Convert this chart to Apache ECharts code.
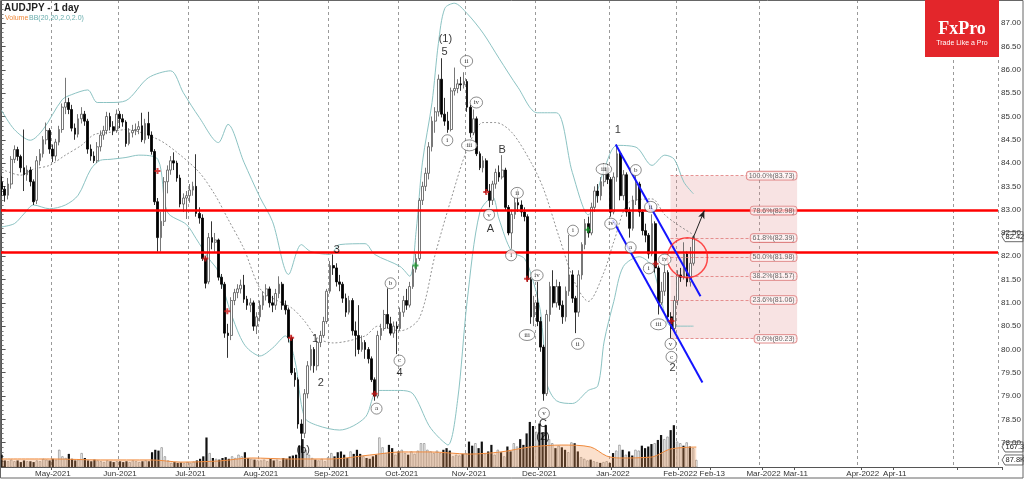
<!DOCTYPE html>
<html><head><meta charset="utf-8">
<script src="https://cdn.jsdelivr.net/npm/echarts/dist/echarts.min.js"></script>
<style>html,body{margin:0;padding:0;background:#fff}#c{width:1024px;height:479px}</style>
</head><body><div id="c"></div><script>
// ---------- axis / categories ----------
const firstDate = '2021-04-09', lastCandleDate = '2022-02-08', axisEndDate = '2022-05-14';
const tickLabels = {'2021-05-03':'May-2021','2021-06-01':'Jun-2021','2021-07-01':'Jul-2021','2021-08-02':'Aug-2021','2021-09-01':'Sep-2021','2021-10-01':'Oct-2021','2021-11-01':'Nov-2021','2021-12-01':'Dec-2021','2022-01-03':'Jan-2022','2022-02-01':'Feb-2022','2022-02-13':'Feb-13','2022-03-01':'Mar-2022','2022-03-11':'Mar-11','2022-04-01':'Apr-2022','2022-04-11':'Apr-11'};
const gridDates = ['2021-05-03','2021-06-01','2021-07-01','2021-08-02','2021-09-01','2021-10-01','2021-11-01','2021-12-01','2022-01-03','2022-02-01','2022-03-01','2022-04-01','2022-05-01'];

// ---------- candles [open, close, low, high] ----------
const candles = [
[83.59,83.44,83.30,83.72],[83.44,83.31,83.17,83.50],[83.31,83.55,83.22,83.68],[83.55,84.08,83.45,84.15],[84.08,84.29,84.00,84.38],
[84.29,84.14,84.05,84.35],[84.14,83.90,83.80,84.18],[83.90,83.75,83.40,84.72],[83.75,83.85,83.62,83.95],[83.85,83.60,83.50,83.92],
[83.60,83.17,83.10,83.65],[83.20,84.05,83.12,84.15],[84.05,84.20,83.95,84.30],[84.20,84.50,84.12,84.58],[84.50,84.70,84.40,84.87],
[84.70,84.30,84.20,84.75],[84.30,84.15,84.02,84.40],[84.15,84.45,84.05,84.52],[84.45,84.72,84.38,84.80],[84.72,85.20,84.65,85.28],
[85.20,85.30,85.05,85.83],[85.30,85.15,85.05,85.40],[85.15,84.75,84.68,85.25],[84.75,84.62,84.50,84.85],[84.62,84.95,84.55,85.05],
[84.95,85.05,84.85,85.20],[85.05,84.90,84.80,85.12],[84.90,84.30,84.20,84.95],[84.30,84.15,84.05,84.40],[84.15,84.05,84.00,84.25],
[84.05,84.35,84.00,84.45],[84.35,84.60,84.25,84.70],[84.60,84.70,84.50,84.80],[84.70,85.00,84.62,85.10],[85.00,84.78,84.70,85.08],
[84.78,84.70,84.60,84.90],[84.70,85.05,84.65,85.15],[85.05,84.95,84.75,85.12],[84.95,84.88,84.78,85.05],[84.88,84.42,84.35,84.92],
[84.42,84.65,84.38,84.75],[84.65,84.70,84.55,84.82],[84.70,84.72,84.60,84.85],[84.72,84.78,84.62,84.90],[84.80,84.50,84.45,85.08],
[84.50,84.85,84.42,84.95],[84.85,84.60,84.52,85.10],[84.60,84.25,84.18,84.68],[84.25,83.17,83.10,84.30],[83.17,82.40,82.10,83.25],
[82.40,82.75,82.10,82.95],[82.75,83.60,82.65,83.70],[83.60,83.85,83.35,83.95],[83.85,84.05,83.75,84.15],[84.05,84.00,83.85,84.23],
[84.00,83.68,83.60,84.05],[83.68,83.12,83.05,83.75],[83.12,83.25,82.95,83.35],[83.25,83.30,82.80,83.40],[83.30,83.42,83.15,83.55],
[83.42,83.50,83.30,83.60],[83.50,82.92,82.85,84.19],[82.92,82.82,82.70,83.05],[82.82,81.95,81.90,82.90],[81.95,81.42,81.31,82.00],
[81.45,82.40,81.40,82.50],[82.40,82.30,82.15,82.75],[82.30,82.35,82.10,82.50],[82.35,81.55,81.48,82.38],[81.55,81.40,81.30,81.62],
[81.40,80.35,80.25,81.45],[80.35,80.30,79.82,80.55],[80.30,81.05,80.20,81.12],[81.05,81.22,80.95,81.30],[81.22,81.30,81.10,81.40],
[81.30,81.38,81.20,81.50],[81.38,81.08,81.00,81.60],[81.08,80.95,80.85,81.15],[80.95,81.00,80.80,81.10],[81.00,80.50,80.40,81.05],
[80.50,80.70,80.33,80.80],[80.70,80.95,80.60,81.05],[80.95,81.15,80.85,81.25],[81.15,81.30,81.05,81.40],[81.30,81.00,80.90,81.35],
[81.00,80.95,80.80,81.15],[80.95,81.20,80.85,81.30],[81.20,81.40,81.10,81.57],[81.40,80.95,80.85,81.45],[80.95,80.85,80.75,81.05],
[80.85,80.25,80.15,80.90],[80.25,79.50,79.45,80.30],[79.50,79.35,79.20,79.60],[79.35,78.40,78.30,79.40],[78.40,78.20,77.84,78.50],
[78.20,79.05,78.10,79.15],[79.05,79.65,78.95,79.75],[79.65,80.00,79.55,80.10],[80.00,79.65,79.50,80.05],[79.65,80.15,79.55,80.25],
[80.15,80.30,80.05,80.40],[80.30,80.60,80.25,80.70],[80.60,81.25,80.55,81.30],[81.25,81.80,81.20,81.90],[81.80,81.75,81.60,82.04],
[81.75,81.45,81.35,81.85],[81.45,81.40,81.25,81.60],[81.40,81.10,81.00,81.45],[81.10,80.80,80.70,81.20],[80.80,81.05,80.75,81.15],
[81.05,80.40,80.30,81.10],[80.40,80.30,79.85,80.60],[80.30,80.00,79.90,80.95],[80.00,80.15,79.95,80.30],[80.15,80.00,79.80,80.20],
[80.00,79.80,79.70,80.05],[79.80,79.35,79.30,79.85],[79.35,79.00,78.90,79.40],[79.00,80.30,78.95,80.40],[80.30,80.45,80.20,80.55],
[80.45,80.75,80.40,80.85],[80.75,80.55,80.45,81.31],[80.55,80.35,80.30,80.70],[80.35,80.50,80.25,80.60],[80.50,80.45,79.90,80.60],
[80.45,80.80,80.40,80.90],[80.80,81.05,80.70,81.15],[81.05,80.95,80.85,81.30],[80.95,81.35,80.90,81.45],[81.35,81.72,81.30,81.80],
[81.72,81.95,81.65,82.05],[81.95,83.20,81.90,83.25],[83.20,83.50,83.10,83.60],[83.50,83.78,83.40,83.90],[83.78,84.35,83.65,84.45],
[84.35,84.90,84.25,85.00],[84.90,85.10,84.65,85.20],[85.10,85.80,85.00,85.90],[85.80,85.05,84.98,86.25],[85.05,84.90,84.80,85.40],
[84.90,84.72,84.65,85.10],[84.72,85.55,84.68,85.62],[85.55,85.60,85.45,86.05],[85.60,85.70,85.50,85.80],[85.70,85.68,85.55,85.85],
[85.68,85.75,85.60,85.95],[85.75,85.20,85.10,85.80],[85.20,84.65,84.55,85.25],[84.65,84.95,84.60,85.15],[84.95,84.20,84.15,85.00],
[84.20,83.90,83.85,84.25],[83.90,84.05,83.80,84.15],[84.05,83.40,83.35,84.10],[83.40,83.20,83.05,83.55],[83.20,83.55,83.10,83.62],
[83.55,83.80,83.45,83.88],[83.80,83.70,83.60,83.95],[83.70,83.85,83.65,84.17],[83.85,83.05,82.98,83.90],[83.05,82.50,82.45,83.10],
[82.50,82.90,82.16,83.00],[82.90,83.15,82.80,83.25],[83.15,83.10,82.95,83.45],[83.10,82.95,82.85,83.20],[82.95,82.85,82.75,83.05],
[82.85,81.50,81.45,82.90],[81.50,80.70,80.55,81.55],[80.70,81.00,80.50,81.15],[81.00,80.60,80.50,81.45],[80.60,80.05,79.95,80.70],
[80.05,79.05,78.90,80.10],[79.05,80.75,79.00,80.85],[80.75,81.35,80.60,81.45],[81.35,81.00,80.90,81.70],[81.00,81.35,80.90,81.50],
[81.35,80.95,80.85,81.45],[80.95,80.70,80.55,81.05],[80.70,81.25,80.60,81.35],[81.25,81.60,81.15,82.46],[81.60,81.10,81.00,81.70],
[81.10,80.80,80.35,81.15],[80.80,81.60,80.70,81.70],[81.60,82.25,81.50,82.30],[82.25,82.70,82.15,82.80],[82.70,82.50,82.40,82.85],
[82.50,83.05,82.45,83.15],[83.05,83.40,82.95,83.50],[83.40,83.30,83.15,83.55],[83.30,83.60,83.20,83.70],[83.60,83.90,83.50,84.00],
[83.90,83.65,83.55,83.98],[83.65,82.95,82.85,83.70],[82.95,83.70,82.90,83.80],[83.70,84.20,83.60,84.40],[84.20,83.30,83.20,84.25],
[83.30,83.75,83.20,83.85],[83.75,82.95,82.85,83.80],[82.95,82.60,82.40,83.05],[82.60,83.20,82.55,83.30],[83.20,83.55,83.10,83.73],
[83.55,82.95,82.85,83.60],[82.95,82.55,82.45,83.00],[82.55,82.45,82.30,82.70],[82.45,82.05,81.95,82.50],[82.05,82.70,82.00,82.90],
[82.70,81.75,81.65,82.75],[81.75,81.00,80.75,81.80],[81.00,81.25,80.95,81.45],[81.25,81.65,81.15,81.92],[81.65,80.70,80.60,81.70],
[80.70,80.45,80.23,80.80],[80.45,81.05,80.35,81.15],[81.05,81.60,80.95,81.70],[81.60,81.55,81.45,81.75],[81.55,82.05,81.50,82.30],
[82.05,81.45,81.35,82.10],[81.45,81.85,81.35,82.20],[81.85,82.42,81.80,82.45]
];

// ---------- volume (thousands) ----------
const volume = [
120,85,80,90,80,85,75,85,80,80,75,85,80,95,90,85,
95,90,150,110,100,125,95,85,90,130,100,85,80,90,85,
80,75,85,80,75,80,80,75,80,75,85,80,75,80,85,80,
135,150,145,165,110,85,
70,75,70,72,68,75,70,78,85,95,
110,225,130,100,
95,90,100,105,95,110,100,120,110,135,100,95,90,85,
85,90,80,95,85,90,80,100,95,110,115,120,
175,215,150,120,100,
90,85,95,80,105,130,110,135,140,120,100,140,125,
150,125,110,100,95,110,120,
225,165,130,180,160,120,140,150,
130,120,140,125,145,190,190,150,140,130,145,
130,150,160,145,110,120,115,125,130,
200,175,190,160,200,125,140,180,120,150,135,110,170,
140,190,170,215,180,250,320,
295,260,310,255,300,215,190,
160,175,165,150,135,195,190,140,
105,95,85,90,80,75,70,75,80,70,
130,145,180,150,120,140,115,150,145,175,
160,170,185,190,210,240,215,230,270,300,
200,190,175,195,170,160,88
];
// volume moving average read at sample points [candle index, thousands]
const volumeMA = [[0,94],[16,94],[31,88],[47,88],[56,75],[68,82],[78,100],[90,94],[103,94],[115,118],[125,137],[134,137],[146,124],[156,137],[165,167],[175,179],[184,167],[189,112],[193,100],[203,106],[209,155],[217,167]];

// ---------- Bollinger bands read at sample points [candle index, price] ----------
const bbUpper = [[0,85.13],[4,84.72],[9,84.49],[13,84.72],[19,85.36],[22,85.47],[27,85.57],[30,85.30],[34,85.30],[39,85.34],[46,85.83],[53,85.98],[57,85.51],[62,84.98],[68,84.44],[71,84.83],[76,84.02],[81,83.27],[85,82.74],[90,81.61],[94,82.25],[97,82.10],[103,82.04],[106,82.25],[114,82.27],[117,82.04],[125,81.78],[128,81.57],[130,82.53],[132,84.02],[135,85.30],[137,86.57],[139,87.32],[142,87.43],[146,87.21],[151,86.79],[156,86.25],[162,85.62],[168,85.08],[174,85.08],[179,83.80],[184,82.89],[189,83.87],[193,84.38],[199,84.34],[204,83.95],[208,84.17],[211,84.08],[214,83.59],[217,83.34]];
const bbLower = [[0,82.63],[4,82.70],[7,82.91],[10,83.10],[15,83.02],[20,83.10],[24,83.31],[28,83.87],[31,84.06],[34,84.08],[39,84.12],[43,84.17],[49,84.08],[52,82.95],[58,82.68],[61,82.38],[65,81.95],[68,81.67],[71,80.97],[74,80.40],[76,80.12],[78,79.97],[81,79.86],[85,80.03],[89,80.29],[92,79.76],[95,78.54],[99,78.37],[106,78.27],[114,78.54],[118,79.12],[125,79.12],[129,79.05],[134,78.37],[137,78.12],[140,77.95],[143,78.90],[146,81.03],[150,82.95],[154,83.27],[156,82.80],[160,82.10],[164,81.95],[167,81.40],[169,80.82],[170,80.12],[171,79.27],[174,78.90],[179,78.84],[184,79.12],[187,79.22],[189,80.18],[192,81.03],[195,81.78],[200,81.99],[204,81.78],[207,81.03],[210,80.50],[217,80.50]];
const bbMid = [[0,83.87],[6,83.74],[10,83.87],[15,83.95],[20,84.17],[25,84.38],[29,84.61],[34,84.66],[39,84.72],[49,84.51],[55,84.23],[62,83.80],[67,83.31],[71,82.80],[76,82.16],[81,81.31],[85,81.10],[91,80.89],[95,80.61],[99,80.25],[104,80.14],[114,80.29],[118,80.50],[125,80.40],[131,80.67],[136,82.04],[141,83.23],[146,84.29],[151,84.87],[155,84.87],[160,84.66],[166,84.02],[170,83.44],[175,82.38],[180,81.40],[184,81.03],[189,81.67],[192,82.31],[197,83.17],[204,83.23],[208,82.89],[212,82.68],[217,82.46]];

// ---------- annotations ----------
const redLevels = [82.99, 82.08];
const fibRange = {x0: 209.8, x1: 249.5, high: 83.73, low: 80.23};
const fibLevels = [[83.73,'100.0%(83.73)'],[82.98,'78.6%(82.98)'],[82.39,'61.8%(82.39)'],[81.98,'50.0%(81.98)'],[81.57,'38.2%(81.57)'],[81.06,'23.6%(81.06)'],[80.23,'0.0%(80.23)']];
const channelUpper = [[192.6,84.40],[219.2,81.14]];
const channelLower = [[191.7,82.78],[219.8,79.29]];
const circleMark = [215.1, 81.97];
const arrowMark = [[216.7,82.36],[220.4,82.98]];
const waveCircled = [[117.6,78.73,'a'],[122.0,81.42,'b'],[124.8,79.76,'c'],[139.8,84.49,'i'],[145.8,86.19,'ii'],[146.7,84.38,'iii'],[148.9,85.30,'iv'],[152.9,82.89,'v'],[161.7,83.36,'ii'],[159.8,82.02,'i'],[167.9,81.59,'iv'],[164.8,80.31,'iii'],[170.1,78.63,'v'],[179.2,82.55,'i'],[180.7,80.12,'ii'],[188.9,83.87,'iii'],[191.1,82.70,'iv'],[198.9,83.85,'b'],[197.3,82.19,'a'],[203.6,83.06,'ii'],[203.0,81.74,'i'],[208.0,81.93,'iv'],[206.0,80.54,'iii'],[209.8,80.12,'v'],[210.1,79.84,'c']];
const waveText = [[139.2,86.66,'(1)'],[138.9,86.38,'5'],[193.3,84.70,'1'],[210.4,79.61,'2'],[157.0,84.29,'B'],[153.3,82.59,'A'],[169.8,78.39,'C'],[169.8,78.12,'(2)'],[105.1,82.14,'3'],[98.3,80.23,'1'],[100.1,79.29,'2'],[124.8,79.50,'4'],[94.6,77.84,'(b)']];
const redCrosses = [[48.9,83.83],[63.9,81.95],[70.8,80.82],[90.8,80.25],[117.0,79.05],[152.0,83.38],[164.8,81.52],[205.1,81.84],[210.1,80.61]];
const greenCrosses = [[129.8,81.80],[183.9,82.57]];
const lastPriceTag = 82.42, volTagA = 167.3, volTagB = 87.8;

// ---------- build ----------
function fmt(d){return d.toISOString().slice(0,10);}
const categories = [];
for (let d = new Date(firstDate+'T00:00:00Z'); fmt(d) <= axisEndDate; d.setUTCDate(d.getUTCDate()+1)) {
  const s = fmt(d), wd = d.getUTCDay();
  if (s <= lastCandleDate && (wd===0 || wd===6)) continue;
  categories.push(s);
}
const N = categories.length;
const gridSet = new Set(gridDates);
const FONT = '"Liberation Sans", Arial, sans-serif';
const CLEAR = 'rgba(0,0,0,0)';

const chart = echarts.init(document.getElementById('c'), null, {renderer:'canvas'});
const plusPath = 'path://M2,0H4V2H6V4H4V6H2V4H0V2H2Z';

const option = {
  animation:false,
  backgroundColor:'#ffffff',
  textStyle:{fontFamily:FONT},
  grid:[{left:0,right:22,top:-3.47,height:469.4},{left:0,right:22,bottom:12,height:67}],
  xAxis:[
    {type:'category',gridIndex:0,data:categories,boundaryGap:true,axisLine:{show:false},axisTick:{show:false},axisLabel:{show:false},
     splitLine:{show:true,interval:(i,v)=>gridSet.has(v),lineStyle:{color:'#9a9a9a',type:[3,3],width:1}}},
    {type:'category',gridIndex:1,data:categories,boundaryGap:true,axisLine:{show:true,lineStyle:{color:'#555',width:1}},
     axisTick:{show:true,interval:(i,v)=>(v in tickLabels)||gridSet.has(v),length:3,lineStyle:{color:'#555'}},
     axisLabel:{interval:(i,v)=>(v in tickLabels),formatter:v=>tickLabels[v]||'',fontSize:8,color:'#333',margin:3,fontFamily:FONT},
     splitLine:{show:false}},
    {type:'value',gridIndex:0,min:-0.5,max:N-0.5,show:false},
    {type:'value',gridIndex:1,min:-0.5,max:N-0.5,show:false}
  ],
  yAxis:[
    {type:'value',gridIndex:0,position:'right',min:77.5,max:87.5,interval:0.5,
     axisLine:{show:true,lineStyle:{color:'#555'}},axisTick:{show:true,length:4,lineStyle:{color:'#555'}},
     minorTick:{show:true,splitNumber:5,length:2,lineStyle:{color:'#777'}},
     axisLabel:{formatter:v=>(v<77.9||v>87.2)?'':v.toFixed(2),fontSize:8,color:'#333',margin:3,fontFamily:FONT},
     splitLine:{show:false}},
    {type:'value',gridIndex:1,position:'right',min:45,max:453.7,axisLine:{show:true,lineStyle:{color:'#555'}},axisTick:{show:false},axisLabel:{show:false},splitLine:{show:false}}
  ],
  series:[
    {type:'line',xAxisIndex:2,yAxisIndex:0,data:[],z:1,silent:true,
     markArea:{silent:true,itemStyle:{color:'rgba(226,140,140,0.24)'},data:[[{coord:[fibRange.x0,fibRange.high]},{coord:[fibRange.x1,fibRange.low]}]]},
     markLine:{silent:true,symbol:['none','none'],label:{show:false},lineStyle:{color:'#e07878',type:[3,2],width:0.8},
       data:fibLevels.map(l=>[{coord:[fibRange.x0,l[0]]},{coord:[fibRange.x1,l[0]]}])}},
    {type:'line',xAxisIndex:2,yAxisIndex:0,data:bbUpper,symbol:'none',smooth:0.3,silent:true,z:2,lineStyle:{color:'#8cc3c3',width:1}},
    {type:'line',xAxisIndex:2,yAxisIndex:0,data:bbLower,symbol:'none',smooth:0.3,silent:true,z:2,lineStyle:{color:'#8cc3c3',width:1}},
    {type:'line',xAxisIndex:2,yAxisIndex:0,data:bbMid,symbol:'none',smooth:0.3,silent:true,z:2,lineStyle:{color:'#777',width:0.8,type:[2,2]}},
    {type:'candlestick',xAxisIndex:0,yAxisIndex:0,data:candles,barWidth:2.2,z:3,
     itemStyle:{color:'#ffffff',color0:'#000000',borderColor:'#555555',borderColor0:'#000000',borderWidth:0.8},
     markLine:{silent:true,symbol:['none','none'],label:{show:false},lineStyle:{color:'#ff0000',width:2.6,type:'solid'},
       data:redLevels.map(v=>({yAxis:v}))}},
    {type:'bar',xAxisIndex:1,yAxisIndex:1,barWidth:2.2,z:2,silent:true,
     data:volume.map((v,i)=>({value:v,itemStyle:(candles[i][1]>=candles[i][0])?{color:'#ffffff',borderColor:'#777',borderWidth:0.6}:{color:'#111'}}))},
    {type:'line',xAxisIndex:3,yAxisIndex:1,data:volumeMA,symbol:'none',smooth:0.3,silent:true,z:3,
     lineStyle:{color:'#f08a3c',width:1},areaStyle:{color:'rgba(242,150,80,0.42)',origin:'start'}},
    {type:'line',xAxisIndex:2,yAxisIndex:0,data:channelUpper,symbol:'none',silent:true,z:6,lineStyle:{color:'#1414ff',width:2}},
    {type:'line',xAxisIndex:2,yAxisIndex:0,data:channelLower,symbol:'none',silent:true,z:6,lineStyle:{color:'#1414ff',width:2}},
    {type:'scatter',xAxisIndex:2,yAxisIndex:0,data:[circleMark],symbol:'circle',symbolSize:40,silent:true,z:7,
     itemStyle:{color:CLEAR,borderColor:'#ff2020',borderWidth:1.5}},
    {type:'line',xAxisIndex:2,yAxisIndex:0,data:[],z:7,
     markLine:{silent:true,symbol:['none','arrow'],symbolSize:[5,8],label:{show:false},lineStyle:{color:'#222',width:1,type:'solid'},
       data:[[{coord:arrowMark[0]},{coord:arrowMark[1]}]]}},
    {type:'scatter',xAxisIndex:2,yAxisIndex:0,data:fibLevels.map(l=>[fibRange.x1,l[0]]),symbolSize:1,silent:true,z:8,
     itemStyle:{color:CLEAR},
     label:{show:true,position:'left',distance:0,formatter:p=>fibLevels[p.dataIndex][1],fontSize:7,color:'#444',fontFamily:FONT,
       backgroundColor:'rgba(255,250,250,0.9)',borderColor:'#d86a6a',borderWidth:0.8,borderRadius:3,padding:[1,2,0,2]}},
    {type:'scatter',xAxisIndex:2,yAxisIndex:0,data:redCrosses,symbol:plusPath,symbolSize:6,silent:true,z:8,itemStyle:{color:'#d01818'}},
    {type:'scatter',xAxisIndex:2,yAxisIndex:0,data:greenCrosses,symbol:plusPath,symbolSize:6,silent:true,z:8,itemStyle:{color:'#1a9a30'}},
    {type:'scatter',xAxisIndex:2,yAxisIndex:0,data:waveCircled.map(w=>[w[0],w[1]]),symbol:'circle',silent:true,z:9,
     symbolSize:(v,p)=>{const t=waveCircled[p.dataIndex][2];return [Math.max(11,t.length*3.2+6),11];},
     itemStyle:{color:'#ffffff',borderColor:'#333',borderWidth:0.7},
     label:{show:true,position:'inside',formatter:p=>waveCircled[p.dataIndex][2],fontSize:7,color:'#000',fontFamily:'"Liberation Serif", "DejaVu Serif", serif'}},
    {type:'scatter',xAxisIndex:2,yAxisIndex:0,data:waveText.map(w=>[w[0],w[1]]),symbolSize:1,silent:true,z:9,itemStyle:{color:CLEAR},
     label:{show:true,position:'inside',formatter:p=>waveText[p.dataIndex][2],fontSize:11,color:'#000',fontFamily:FONT}}
  ]
};
chart.setOption(option);

function tag(y,text){
  return {type:'group',z:100,children:[
    {type:'polygon',shape:{points:[[1002,y],[1005,y-5],[1023,y-5],[1023,y+5],[1005,y+5]]},style:{fill:'#fff',stroke:'#444',lineWidth:0.8}},
    {type:'text',x:1005.5,y:y,style:{text:text,fontSize:7.5,fontFamily:FONT,fill:'#222',verticalAlign:'middle'}}
  ]};
}
const yCur = chart.convertToPixel({yAxisIndex:0}, lastPriceTag);
const yVA = chart.convertToPixel({yAxisIndex:1}, volTagA);
const yVB = chart.convertToPixel({yAxisIndex:1}, volTagB);
chart.setOption({graphic:[
  {type:'rect',shape:{x:0.5,y:0.5,width:1022.5,height:477.5},style:{fill:'none',stroke:'#666',lineWidth:1},z:50},
  {type:'text',x:4,y:3,style:{text:'AUDJPY - 1 day',font:'bold 10px '+FONT,fill:'#222'},z:50},
  {type:'text',x:5,y:15,style:{text:'Volume',font:'7px '+FONT,fill:'#f08a3c'},z:50},
  {type:'text',x:29,y:15,style:{text:'BB(20,20,2.0,2.0)',font:'7px '+FONT,fill:'#6aaeae'},z:50},
  {type:'rect',shape:{x:925,y:0,width:74,height:57},style:{fill:'#e3262b'},z:50},
  {type:'text',x:962,y:29,style:{text:'FxPro',font:'bold 18px "Liberation Serif", serif',fill:'#fff',align:'center',verticalAlign:'middle'},z:51},
  {type:'text',x:962,y:43,style:{text:'Trade Like a Pro',font:'7px '+FONT,fill:'#fff',align:'center',verticalAlign:'middle'},z:51},
  tag(yCur, lastPriceTag.toFixed(2)),
  tag(yVA, volTagA.toFixed(1)+'K'),
  tag(yVB, volTagB.toFixed(1)+'K')
]});
</script></body></html>
